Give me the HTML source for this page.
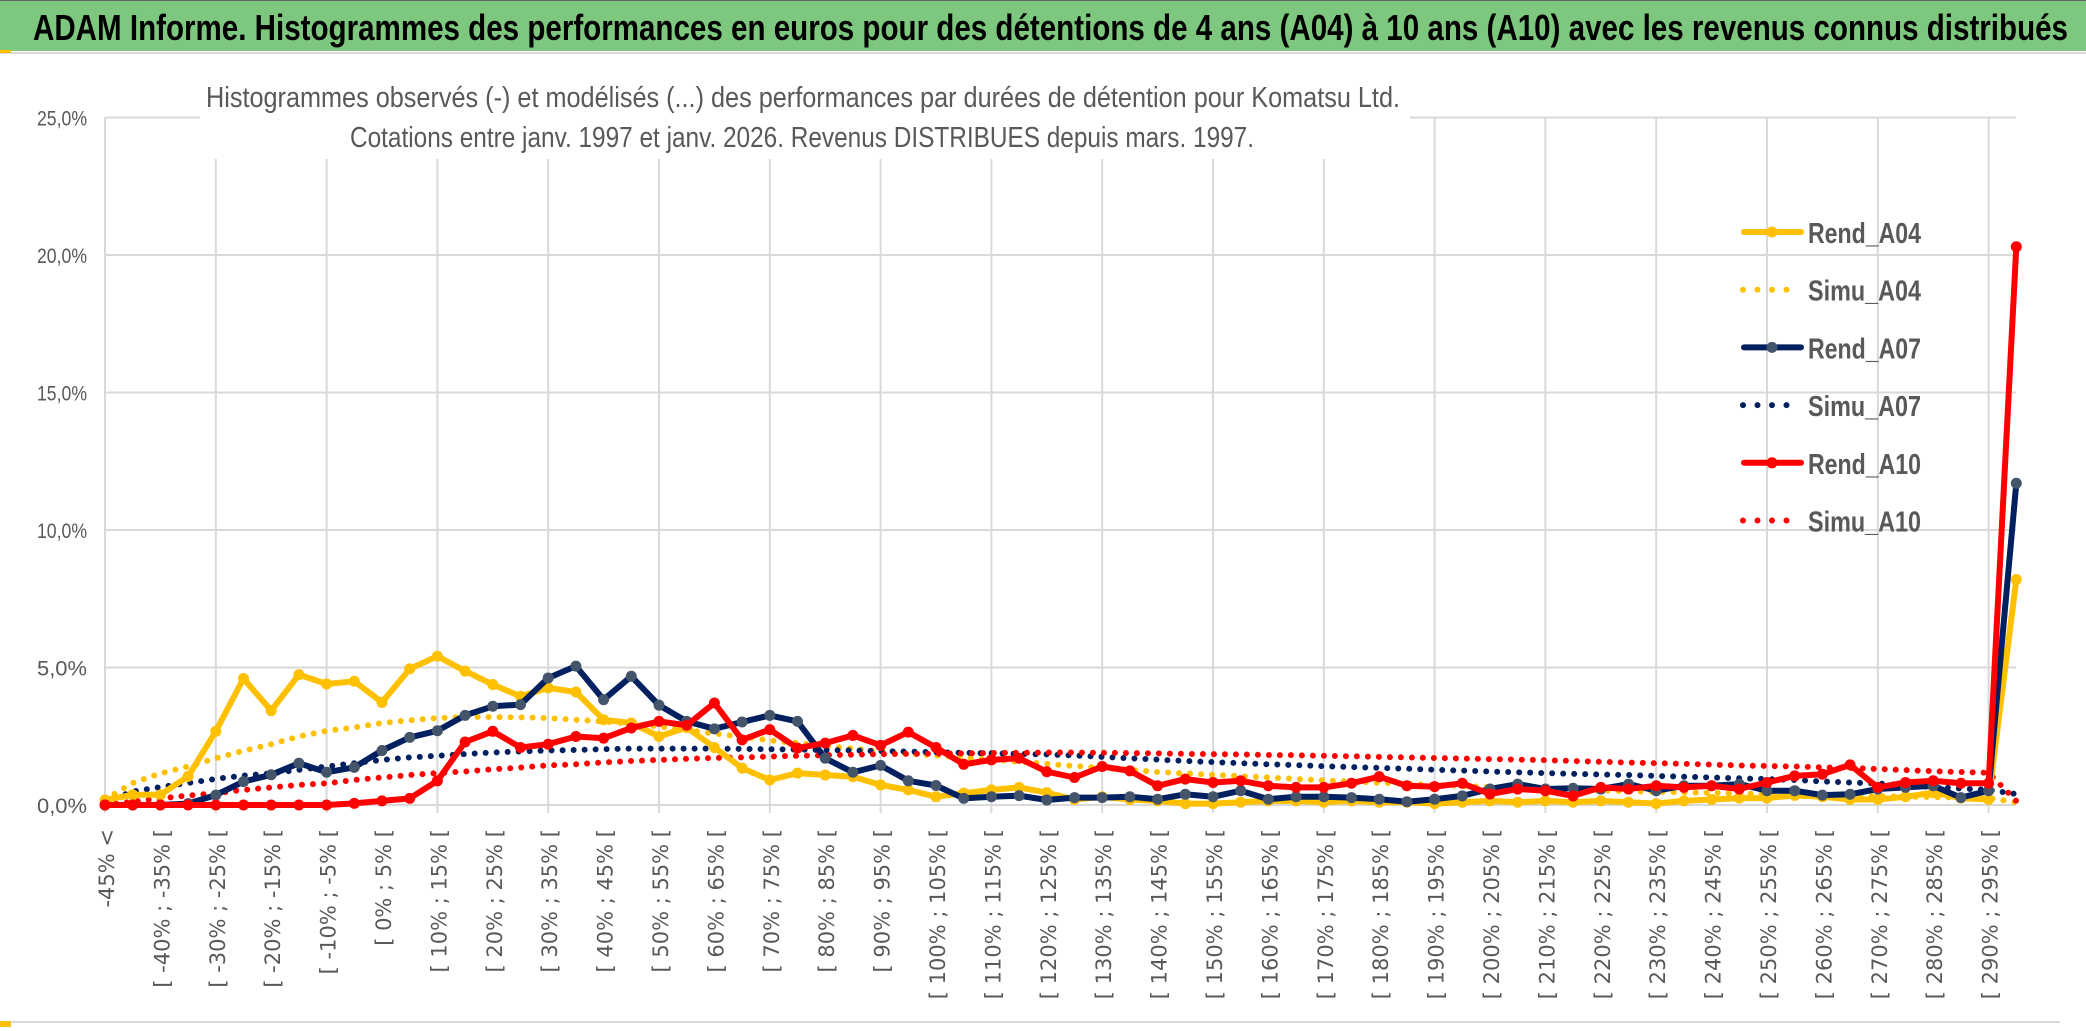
<!DOCTYPE html>
<html><head><meta charset="utf-8"><style>
html,body{margin:0;padding:0;background:#fff;}
svg{display:block;}
</style></head><body>
<svg id="chart" width="2086" height="1031" viewBox="0 0 2086 1031" xmlns="http://www.w3.org/2000/svg">
<rect x="0" y="0" width="2086" height="1031" fill="#fff"/>
<rect x="0" y="0" width="2086" height="51" fill="#7DC87E"/>
<line x1="0" y1="0.5" x2="2086" y2="0.5" stroke="#666" stroke-width="1"/>
<line x1="0" y1="53" x2="2086" y2="53" stroke="#d9d9d9" stroke-width="2"/>
<rect x="0" y="50" width="11" height="3" fill="#FFC000"/>
<text x="33" y="40" font-family="Liberation Sans, sans-serif" font-weight="bold" font-size="36" fill="#000" textLength="2035" lengthAdjust="spacingAndGlyphs">ADAM Informe. Histogrammes des performances en euros pour des détentions de 4 ans (A04) à 10 ans (A10) avec les revenus connus distribués</text>
<line x1="1" y1="1022" x2="2060" y2="1022" stroke="#d9d9d9" stroke-width="2"/>
<rect x="0" y="1021" width="11" height="6" fill="#FFC000"/>
<g id="grid"></g>
<rect x="200" y="66" width="1210" height="93" fill="#fff"/>
<text x="803" y="107" text-anchor="middle" font-family="Liberation Sans, sans-serif" font-size="29" fill="#595959" textLength="1194" lengthAdjust="spacingAndGlyphs">Histogrammes observés (-) et modélisés (...) des performances par durées de détention pour Komatsu Ltd.</text>
<text x="802" y="147" text-anchor="middle" font-family="Liberation Sans, sans-serif" font-size="29" fill="#595959" textLength="904" lengthAdjust="spacingAndGlyphs">Cotations entre janv. 1997 et janv. 2026. Revenus DISTRIBUES depuis mars. 1997.</text>
<g id="yaxis"></g>
<g id="xaxis"></g>
<g id="series"></g>
<g id="legend"></g>
</svg>
<script>
const yTicks=[0,5,10,15,20,25];
const rendA04=[0.18,0.37,0.37,1.04,2.68,4.6,3.43,4.74,4.4,4.5,3.73,4.95,5.41,4.87,4.38,3.95,4.26,4.11,3.1,2.98,2.49,2.82,2.09,1.34,0.91,1.16,1.09,1.03,0.73,0.55,0.3,0.43,0.55,0.64,0.45,0.2,0.3,0.2,0.15,0.05,0.05,0.1,0.15,0.15,0.1,0.15,0.1,0.1,0.05,0.1,0.15,0.1,0.15,0.1,0.15,0.1,0.05,0.15,0.2,0.25,0.25,0.35,0.3,0.2,0.2,0.3,0.45,0.25,0.2,8.2];
const simuA04=[0.2,0.8,1.15,1.4,1.7,1.97,2.21,2.49,2.7,2.82,2.98,3.08,3.16,3.2,3.2,3.19,3.16,3.1,3.04,2.95,2.85,2.72,2.6,2.48,2.35,2.25,2.15,2.05,1.95,1.87,1.8,1.72,1.65,1.57,1.5,1.42,1.35,1.28,1.2,1.15,1.1,1.05,1.0,0.95,0.9,0.85,0.81,0.77,0.73,0.69,0.65,0.62,0.59,0.56,0.53,0.5,0.48,0.46,0.44,0.42,0.4,0.38,0.36,0.34,0.32,0.3,0.29,0.27,0.25,0.1];
const rendA07=[0,0,0,0.05,0.36,0.85,1.1,1.52,1.19,1.37,1.98,2.46,2.7,3.26,3.59,3.65,4.62,5.05,3.83,4.68,3.63,3.04,2.77,3.02,3.26,3.04,1.7,1.19,1.44,0.88,0.71,0.24,0.3,0.34,0.18,0.27,0.27,0.3,0.21,0.39,0.3,0.52,0.21,0.3,0.3,0.27,0.21,0.12,0.21,0.33,0.58,0.76,0.58,0.61,0.58,0.76,0.52,0.7,0.7,0.76,0.52,0.52,0.36,0.39,0.58,0.64,0.7,0.27,0.52,11.7];
const simuA07=[0.1,0.49,0.65,0.8,0.95,1.07,1.15,1.28,1.4,1.52,1.64,1.73,1.79,1.85,1.91,1.95,1.98,2.0,2.03,2.05,2.05,2.05,2.05,2.04,2.03,2.02,2.0,1.98,1.96,1.94,1.92,1.9,1.88,1.86,1.84,1.8,1.75,1.7,1.65,1.6,1.56,1.52,1.48,1.45,1.41,1.38,1.35,1.32,1.28,1.25,1.22,1.19,1.16,1.13,1.11,1.09,1.06,1.03,1.0,0.97,0.94,0.91,0.86,0.82,0.78,0.72,0.66,0.6,0.55,0.4];
const rendA10=[0,0,0,0,0,0,0,0,0,0.06,0.15,0.24,0.88,2.29,2.68,2.09,2.21,2.49,2.43,2.8,3.04,2.9,3.71,2.37,2.74,2.07,2.25,2.53,2.17,2.65,2.09,1.48,1.64,1.7,1.21,1.0,1.4,1.24,0.7,0.94,0.82,0.88,0.7,0.64,0.64,0.79,1.03,0.7,0.67,0.79,0.4,0.58,0.52,0.33,0.64,0.58,0.7,0.64,0.7,0.58,0.82,1.06,1.12,1.46,0.64,0.82,0.88,0.79,0.79,20.3];
const simuA10=[0,0.12,0.24,0.34,0.43,0.55,0.64,0.73,0.79,0.91,1.0,1.09,1.16,1.22,1.3,1.36,1.44,1.48,1.55,1.6,1.64,1.68,1.71,1.73,1.76,1.79,1.81,1.83,1.85,1.86,1.87,1.88,1.89,1.9,1.91,1.91,1.9,1.89,1.88,1.86,1.85,1.84,1.82,1.81,1.79,1.77,1.75,1.73,1.71,1.69,1.67,1.65,1.63,1.6,1.57,1.54,1.52,1.5,1.47,1.44,1.42,1.4,1.37,1.35,1.31,1.27,1.23,1.2,1.17,0.15];
const legendNames=["Rend_A04","Simu_A04","Rend_A07","Simu_A07","Rend_A10","Simu_A10"];
const N=70;
function catLabel(i){ if(i===0) return "-45% <"; const a=-50+5*i; return "[ "+a+"% ; "+(a+5)+"% ["; }
const X0=105, STEP=27.7, Y0=805, PX=27.5;
const xs=i=>X0+i*STEP;
const ys=v=>Y0-v*PX;
const NS="http://www.w3.org/2000/svg";
function mk(tag,attrs,parent){const e=document.createElementNS(NS,tag);for(const k in attrs)e.setAttribute(k,attrs[k]);parent.appendChild(e);return e;}
const grid=document.getElementById('grid');
for(let i=0;i<N;i+=4){
  const l=mk('line',{x1:xs(i),x2:xs(i),y1:ys(25),y2:Y0+8,stroke:'#d9d9d9','stroke-width':2},grid);
  
  
}
const yax=document.getElementById('yaxis');
yTicks.forEach(t=>{
  const l=mk('line',{x1:X0,x2:2016,y1:ys(t),y2:ys(t),stroke:'#d9d9d9','stroke-width':2},grid);
  
  
  const tx=mk('text',{x:87,y:ys(t)+8,'text-anchor':'end','font-family':'Liberation Sans, sans-serif','font-size':21,fill:'#595959',textLength:50,lengthAdjust:'spacingAndGlyphs'},yax);
  tx.textContent=t.toFixed(1).replace('.',',')+'%';
  
  
});
const xax=document.getElementById('xaxis');
for(let i=0;i<N;i+=2){
  const bx=xs(i)+9, by=829;
  const tx=mk('text',{x:bx,y:by,transform:`rotate(-90 ${bx} ${by})`,'text-anchor':'end','font-family':'DejaVu Sans, sans-serif','font-size':21,fill:'#595959','xml:space':'preserve'},xax);
  tx.textContent=catLabel(i).replace(/ ; /,' ;  ');
  
  
}
const ser=document.getElementById('series');
function pts(arr){return arr.map((v,i)=>xs(i).toFixed(1)+','+ys(v).toFixed(1)).join(' ');}
function dotted(arr,color,name){
  const p=mk('polyline',{points:pts(arr),fill:'none',stroke:color,'stroke-width':6,'stroke-linecap':'round','stroke-dasharray':'0 11'},ser);
  
  
}
function solid(arr,color,mcolor,name){
  const p=mk('polyline',{points:pts(arr),fill:'none',stroke:color,'stroke-width':6,'stroke-linejoin':'round'},ser);
  
  
  arr.forEach((v,i)=>{
    const c=mk('circle',{cx:xs(i),cy:ys(v),r:5.5,fill:mcolor},ser);
    
    
  });
}
dotted(simuA04,'#FFC000','simu-a04-line');
dotted(simuA07,'#002060','simu-a07-line');
dotted(simuA10,'#FF0000','simu-a10-line');
solid(rendA04,'#FFC000','#FFC000','rend-a04-line');
solid(rendA07,'#002060','#44546A','rend-a07-line');
solid(rendA10,'#FF0000','#FF0000','rend-a10-line');
const leg=document.getElementById('legend');
const legStyles=[['#FFC000','#FFC000',0],['#FFC000',null,1],['#002060','#44546A',0],['#002060',null,1],['#FF0000','#FF0000',0],['#FF0000',null,1]];
legendNames.forEach((n,k)=>{
  const cy=232+k*57.7;
  const [c,m,d]=legStyles[k];
  const g=mk('g',{},leg);
  
  
  if(d){ mk('line',{x1:1743,x2:1800,y1:cy,y2:cy,stroke:c,'stroke-width':6,'stroke-linecap':'round','stroke-dasharray':'0 14.5'},g); }
  else { mk('line',{x1:1744,x2:1801,y1:cy,y2:cy,stroke:c,'stroke-width':6,'stroke-linecap':'round'},g); mk('circle',{cx:1772,cy:cy,r:5.5,fill:m},g); }
  const t=mk('text',{x:1808,y:cy+11,'font-family':'Liberation Sans, sans-serif','font-size':29,'font-weight':'bold',fill:'#595959',textLength:113,lengthAdjust:'spacingAndGlyphs'},g);
  t.textContent=n;
});
</script>
</body></html>
